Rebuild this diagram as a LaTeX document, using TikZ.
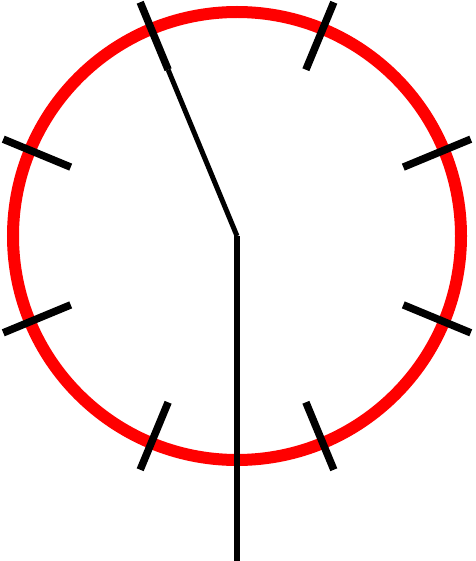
\documentclass[tikz,border=0pt]{standalone}
\usetikzlibrary{calc}
\begin{document}
\begin{tikzpicture}[x=1pt,y=-1pt,
  rim/.style={draw=red,line width=12pt},
  tickmark/.style={draw=black,line width=7.5pt},
  hand/.style={draw=black,line width=5pt},
  shaft/.style={draw=black,line width=6pt}]
\useasboundingbox (0,0) rectangle (475,561);
\coordinate (c) at (237,236);
\draw[rim] (c) circle[radius=224];
\foreach \a in {22.5,67.5,...,337.5}{
  \draw[tickmark] ($(c)+(\a:180 and -180)$) -- ($(c)+(\a:253 and -253)$);
}
\coordinate (h) at ($(c)+(112.5:180 and -180)$);
\coordinate (b) at (237,561);
\draw[hand] (c) -- (h);
\draw[shaft] (c) -- (b);
\end{tikzpicture}
\end{document}
